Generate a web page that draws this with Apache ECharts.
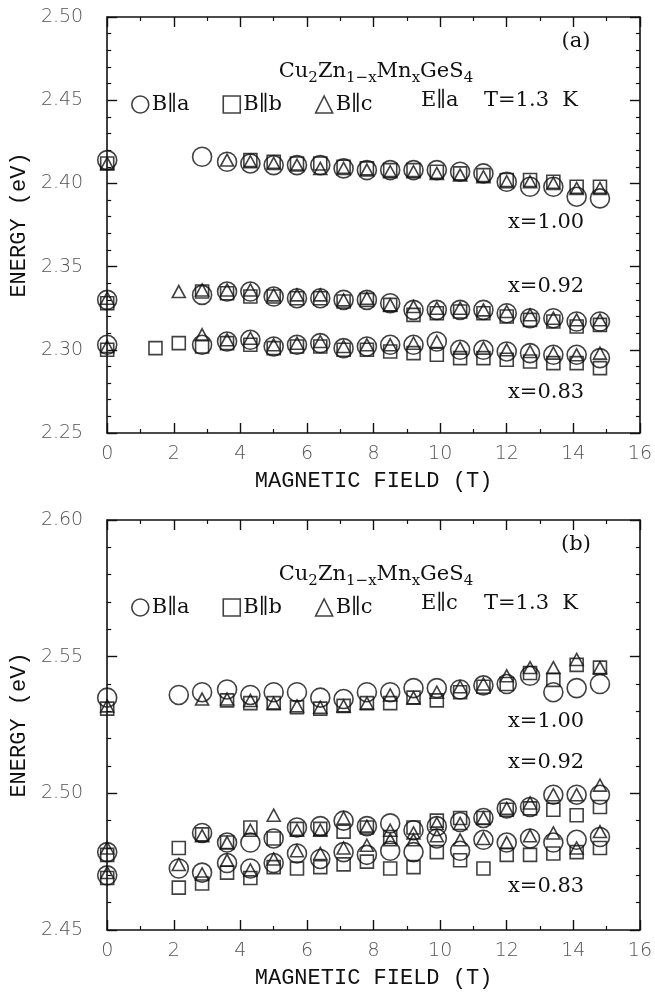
<!DOCTYPE html>
<html><head><meta charset="utf-8">
<script src="https://cdn.jsdelivr.net/npm/echarts@6/dist/echarts.min.js"></script>
<style>html,body{margin:0;padding:0;background:#fff}#c{width:655px;height:992px}</style>
</head><body><div id="c"></div>
<script>
// ---------- data ----------
const X_TICKS = [0, 2, 4, 6, 8, 10, 12, 14, 16];
const Y_TICKS_A = [2.25, 2.30, 2.35, 2.40, 2.45, 2.50];
const Y_TICKS_B = [2.45, 2.50, 2.55, 2.60];
const SERIES_NAMES = ['B∥a', 'B∥b', 'B∥c'];
const COMPOSITIONS = ['x=1.00', 'x=0.92', 'x=0.83'];

// magnetic-field points (T)
const FIELD_GRID = [2.85, 3.6, 4.3, 5.0, 5.7, 6.4, 7.1, 7.8, 8.5, 9.2, 9.9, 10.6, 11.3, 12.0, 12.7, 13.4, 14.1, 14.8];
const B_STD = [0, ...FIELD_GRID];
const B_WITH_22 = [0, 2.15, ...FIELD_GRID];
const B_WITH_14_22 = [0, 1.45, 2.15, ...FIELD_GRID];
const B_FROM_36 = [0, ...FIELD_GRID.slice(1)];
const B_FROM_43 = [0, ...FIELD_GRID.slice(2)];

// panel (a)  E||a
const A_X100_CIRC_E = [2.414, 2.416, 2.413, 2.412, 2.411, 2.411, 2.411, 2.409, 2.408, 2.408, 2.408, 2.408, 2.407, 2.406, 2.401, 2.398, 2.398, 2.392, 2.391];
const A_X100_SQ_E   = [2.412, 2.414, 2.413, 2.412, 2.412, 2.410, 2.409, 2.408, 2.408, 2.407, 2.406, 2.405, 2.402, 2.402, 2.401, 2.398, 2.398];
const A_X100_TRI_E  = [2.412, 2.414, 2.413, 2.412, 2.411, 2.409, 2.409, 2.408, 2.407, 2.407, 2.406, 2.405, 2.404, 2.401, 2.401, 2.400, 2.397, 2.397];
const A_X092_CIRC_E = [2.330, 2.333, 2.335, 2.335, 2.332, 2.331, 2.331, 2.330, 2.330, 2.328, 2.324, 2.324, 2.324, 2.324, 2.322, 2.319, 2.319, 2.317, 2.317];
const A_X092_SQ_E   = [2.328, 2.335, 2.334, 2.332, 2.332, 2.331, 2.331, 2.329, 2.330, 2.327, 2.321, 2.322, 2.323, 2.322, 2.320, 2.318, 2.317, 2.314, 2.315];
const A_X092_TRI_E  = [2.331, 2.335, 2.336, 2.336, 2.336, 2.333, 2.333, 2.333, 2.330, 2.331, 2.327, 2.326, 2.325, 2.325, 2.324, 2.323, 2.321, 2.319, 2.318, 2.318];
const A_X083_CIRC_E = [2.303, 2.303, 2.305, 2.306, 2.302, 2.303, 2.304, 2.301, 2.302, 2.303, 2.303, 2.305, 2.300, 2.300, 2.299, 2.298, 2.297, 2.297, 2.295];
const A_X083_SQ_E   = [2.300, 2.301, 2.304, 2.302, 2.304, 2.303, 2.301, 2.302, 2.302, 2.300, 2.300, 2.299, 2.298, 2.297, 2.295, 2.295, 2.294, 2.293, 2.292, 2.292, 2.289];
const A_X083_TRI_E  = [2.302, 2.309, 2.306, 2.307, 2.303, 2.304, 2.305, 2.302, 2.303, 2.303, 2.304, 2.305, 2.301, 2.301, 2.300, 2.299, 2.298, 2.297, 2.298];

// panel (b)  E||c
const B_X100_CIRC_E = [2.535, 2.536, 2.537, 2.538, 2.536, 2.537, 2.537, 2.535, 2.5345, 2.537, 2.537, 2.5385, 2.5385, 2.538, 2.5395, 2.540, 2.543, 2.537, 2.5385, 2.540];
const B_X100_SQ_E   = [2.531, 2.534, 2.533, 2.533, 2.5315, 2.531, 2.532, 2.533, 2.533, 2.535, 2.534, 2.537, 2.539, 2.540, 2.544, 2.5415, 2.547, 2.546];
const B_X100_TRI_E  = [2.532, 2.5345, 2.5345, 2.534, 2.533, 2.532, 2.5315, 2.532, 2.533, 2.536, 2.535, 2.537, 2.539, 2.540, 2.543, 2.546, 2.546, 2.549, 2.546];
const B_X092_CIRC_E = [2.4785, 2.4855, 2.482, 2.482, 2.4835, 2.4875, 2.488, 2.490, 2.488, 2.489, 2.4865, 2.488, 2.4895, 2.491, 2.4945, 2.495, 2.4995, 2.4995, 2.4995];
const B_X092_SQ_E   = [2.4775, 2.480, 2.485, 2.482, 2.4875, 2.4835, 2.487, 2.487, 2.486, 2.4875, 2.484, 2.4875, 2.490, 2.491, 2.491, 2.494, 2.4945, 2.494, 2.492, 2.495];
const B_X092_TRI_E  = [2.480, 2.4845, 2.482, 2.4865, 2.492, 2.4865, 2.4865, 2.491, 2.488, 2.4865, 2.4855, 2.489, 2.489, 2.491, 2.4945, 2.4965, 2.4995, 2.4995, 2.503];
const B_X083_CIRC_E = [2.470, 2.4725, 2.471, 2.4745, 2.4725, 2.4745, 2.478, 2.476, 2.4785, 2.4775, 2.479, 2.4785, 2.4835, 2.479, 2.483, 2.482, 2.4835, 2.482, 2.483, 2.484];
const B_X083_TRI_E  = [2.471, 2.474, 2.4705, 2.4755, 2.472, 2.476, 2.479, 2.478, 2.480, 2.481, 2.483, 2.483, 2.4845, 2.483, 2.4835, 2.482, 2.4845, 2.4855, 2.480, 2.486];
const B_X083_SQ_E   = [2.469, 2.4655, 2.467, 2.471, 2.469, 2.473, 2.4725, 2.473, 2.474, 2.475, 2.4725, 2.473, 2.4785, 2.4755, 2.4725, 2.4775, 2.4775, 2.478, 2.4785, 2.480];

// ---------- chart ----------
const chart = echarts.init(document.getElementById('c'), null, {renderer: 'canvas'});
const INK = '#111';
const SYM_SIZE = {circle: 19, rect: 13, triangle: [13, 12]};
const TICK_FONT = 'DejaVu Sans';
const SERIF = 'DejaVu Serif';

function xAx(gi, pos, showLabel) {
  return {
    type: 'value', gridIndex: gi, position: pos,
    min: X_TICKS[0], max: X_TICKS[X_TICKS.length - 1], interval: X_TICKS[1] - X_TICKS[0],
    axisLine: {show: true, onZero: false, lineStyle: {color: INK, width: 1.6}},
    axisTick: {show: true, inside: true, length: 10, lineStyle: {color: INK, width: 1.4}},
    minorTick: {show: true, splitNumber: 2, length: 4, lineStyle: {color: INK, width: 1.2}},
    splitLine: {show: false}, minorSplitLine: {show: false},
    axisLabel: {show: showLabel, margin: 12, color: '#555', fontFamily: TICK_FONT, fontWeight: 200, fontSize: 19,
      formatter: v => String(Math.round(v))},
    name: showLabel ? 'MAGNETIC FIELD (T)' : '', nameLocation: 'middle', nameGap: 37,
    nameTextStyle: {fontFamily: 'Liberation Mono', fontSize: 22, color: INK}
  };
}
function yAx(gi, pos, ticks, showLabel) {
  return {
    type: 'value', gridIndex: gi, position: pos,
    min: ticks[0], max: ticks[ticks.length - 1], interval: 0.05,
    axisLine: {show: true, onZero: false, lineStyle: {color: INK, width: 1.6}},
    axisTick: {show: true, inside: true, length: 10, lineStyle: {color: INK, width: 1.4}},
    minorTick: {show: true, splitNumber: 5, length: 4, lineStyle: {color: INK, width: 1.2}},
    splitLine: {show: false}, minorSplitLine: {show: false},
    axisLabel: {show: showLabel, margin: 24, color: '#555', fontFamily: TICK_FONT, fontWeight: 200, fontSize: 19,
      formatter: v => v.toFixed(2)},
    name: showLabel ? 'ENERGY (eV)' : '', nameLocation: 'middle', nameGap: 76, nameRotate: 90,
    nameTextStyle: {fontFamily: 'Liberation Mono', fontSize: 22, color: INK}
  };
}
function sc(name, sym, B, E, xi, yi) {
  return {
    type: 'scatter', name: name, xAxisIndex: xi, yAxisIndex: yi,
    symbol: sym, symbolSize: SYM_SIZE[sym],
    data: B.map((b, i) => [b, E[i]]),
    itemStyle: {color: 'rgba(0,0,0,0)', borderColor: INK, borderWidth: 1.6},
    emphasis: {disabled: true}, silent: true, clip: false, animation: false
  };
}
function txt(x, y, text, align, size) {
  return {type: 'text', x: x, y: y, silent: true,
    style: {text: text, fill: INK, font: (size || 21) + 'px "' + SERIF + '"',
      align: align || 'left', verticalAlign: 'middle', textAlign: align || 'left', textVerticalAlign: 'middle'}};
}
function formula(x, y) {
  return {type: 'text', x: x, y: y, silent: true,
    style: {text: '{n|Cu}{s|2}{n|Zn}{s|1−x}{n|Mn}{s|x}{n|GeS}{s|4}', fill: INK,
      align: 'center', verticalAlign: 'middle', textAlign: 'center', textVerticalAlign: 'middle',
      rich: {
        n: {fontFamily: SERIF, fontSize: 21, lineHeight: 28, verticalAlign: 'middle', color: INK},
        s: {fontFamily: SERIF, fontSize: 15, lineHeight: 16, verticalAlign: 'bottom', color: INK}
      }}};
}
function legendAt(top) {
  return {
    left: 126, top: top, orient: 'horizontal', itemWidth: 17, itemHeight: 17, itemGap: 33,
    selectedMode: false, data: SERIES_NAMES,
    itemStyle: {color: 'rgba(0,0,0,0)', borderColor: INK, borderWidth: 1.6},
    textStyle: {fontFamily: SERIF, fontSize: 21, color: INK, padding: [0, 0, 0, -2]}
  };
}

const option = {
  backgroundColor: '#fff',
  animation: false,
  grid: [
    {left: 104, top: 17, width: 539, height: 416},
    {left: 104, top: 520, width: 539, height: 410}
  ],
  xAxis: [xAx(0, 'bottom', true), xAx(0, 'top', false), xAx(1, 'bottom', true), xAx(1, 'top', false)],
  yAxis: [yAx(0, 'left', Y_TICKS_A, true), yAx(0, 'right', Y_TICKS_A, false),
          yAx(1, 'left', Y_TICKS_B, true), yAx(1, 'right', Y_TICKS_B, false)],
  legend: [legendAt(89), legendAt(592)],
  series: [
    sc(SERIES_NAMES[0], 'circle',   B_STD,        A_X100_CIRC_E, 0, 0),
    sc(SERIES_NAMES[1], 'rect',     B_FROM_43,    A_X100_SQ_E,   0, 0),
    sc(SERIES_NAMES[2], 'triangle', B_FROM_36,    A_X100_TRI_E,  0, 0),
    sc(SERIES_NAMES[0], 'circle',   B_STD,        A_X092_CIRC_E, 0, 0),
    sc(SERIES_NAMES[1], 'rect',     B_STD,        A_X092_SQ_E,   0, 0),
    sc(SERIES_NAMES[2], 'triangle', B_WITH_22,    A_X092_TRI_E,  0, 0),
    sc(SERIES_NAMES[0], 'circle',   B_STD,        A_X083_CIRC_E, 0, 0),
    sc(SERIES_NAMES[1], 'rect',     B_WITH_14_22, A_X083_SQ_E,   0, 0),
    sc(SERIES_NAMES[2], 'triangle', B_STD,        A_X083_TRI_E,  0, 0),

    sc(SERIES_NAMES[0], 'circle',   B_WITH_22,    B_X100_CIRC_E, 2, 2),
    sc(SERIES_NAMES[1], 'rect',     B_FROM_36,    B_X100_SQ_E,   2, 2),
    sc(SERIES_NAMES[2], 'triangle', B_STD,        B_X100_TRI_E,  2, 2),
    sc(SERIES_NAMES[0], 'circle',   B_STD,        B_X092_CIRC_E, 2, 2),
    sc(SERIES_NAMES[1], 'rect',     B_WITH_22,    B_X092_SQ_E,   2, 2),
    sc(SERIES_NAMES[2], 'triangle', B_STD,        B_X092_TRI_E,  2, 2),
    sc(SERIES_NAMES[0], 'circle',   B_WITH_22,    B_X083_CIRC_E, 2, 2),
    sc(SERIES_NAMES[1], 'rect',     B_WITH_22,    B_X083_SQ_E,   2, 2),
    sc(SERIES_NAMES[2], 'triangle', B_WITH_22,    B_X083_TRI_E,  2, 2)
  ],
  graphic: [
    txt(576, 42, '(a)', 'center'),
    formula(376, 72),
    txt(421, 101, 'E∥a'),
    txt(484, 101, 'T=1.3  K'),
    txt(508, 223, COMPOSITIONS[0]),
    txt(508, 287, COMPOSITIONS[1]),
    txt(508, 393, COMPOSITIONS[2]),

    txt(576, 545, '(b)', 'center'),
    formula(376, 575),
    txt(421, 604, 'E∥c'),
    txt(484, 604, 'T=1.3  K'),
    txt(508, 722, COMPOSITIONS[0]),
    txt(508, 763, COMPOSITIONS[1]),
    txt(508, 887, COMPOSITIONS[2])
  ]
};
chart.setOption(option);
</script></body></html>
